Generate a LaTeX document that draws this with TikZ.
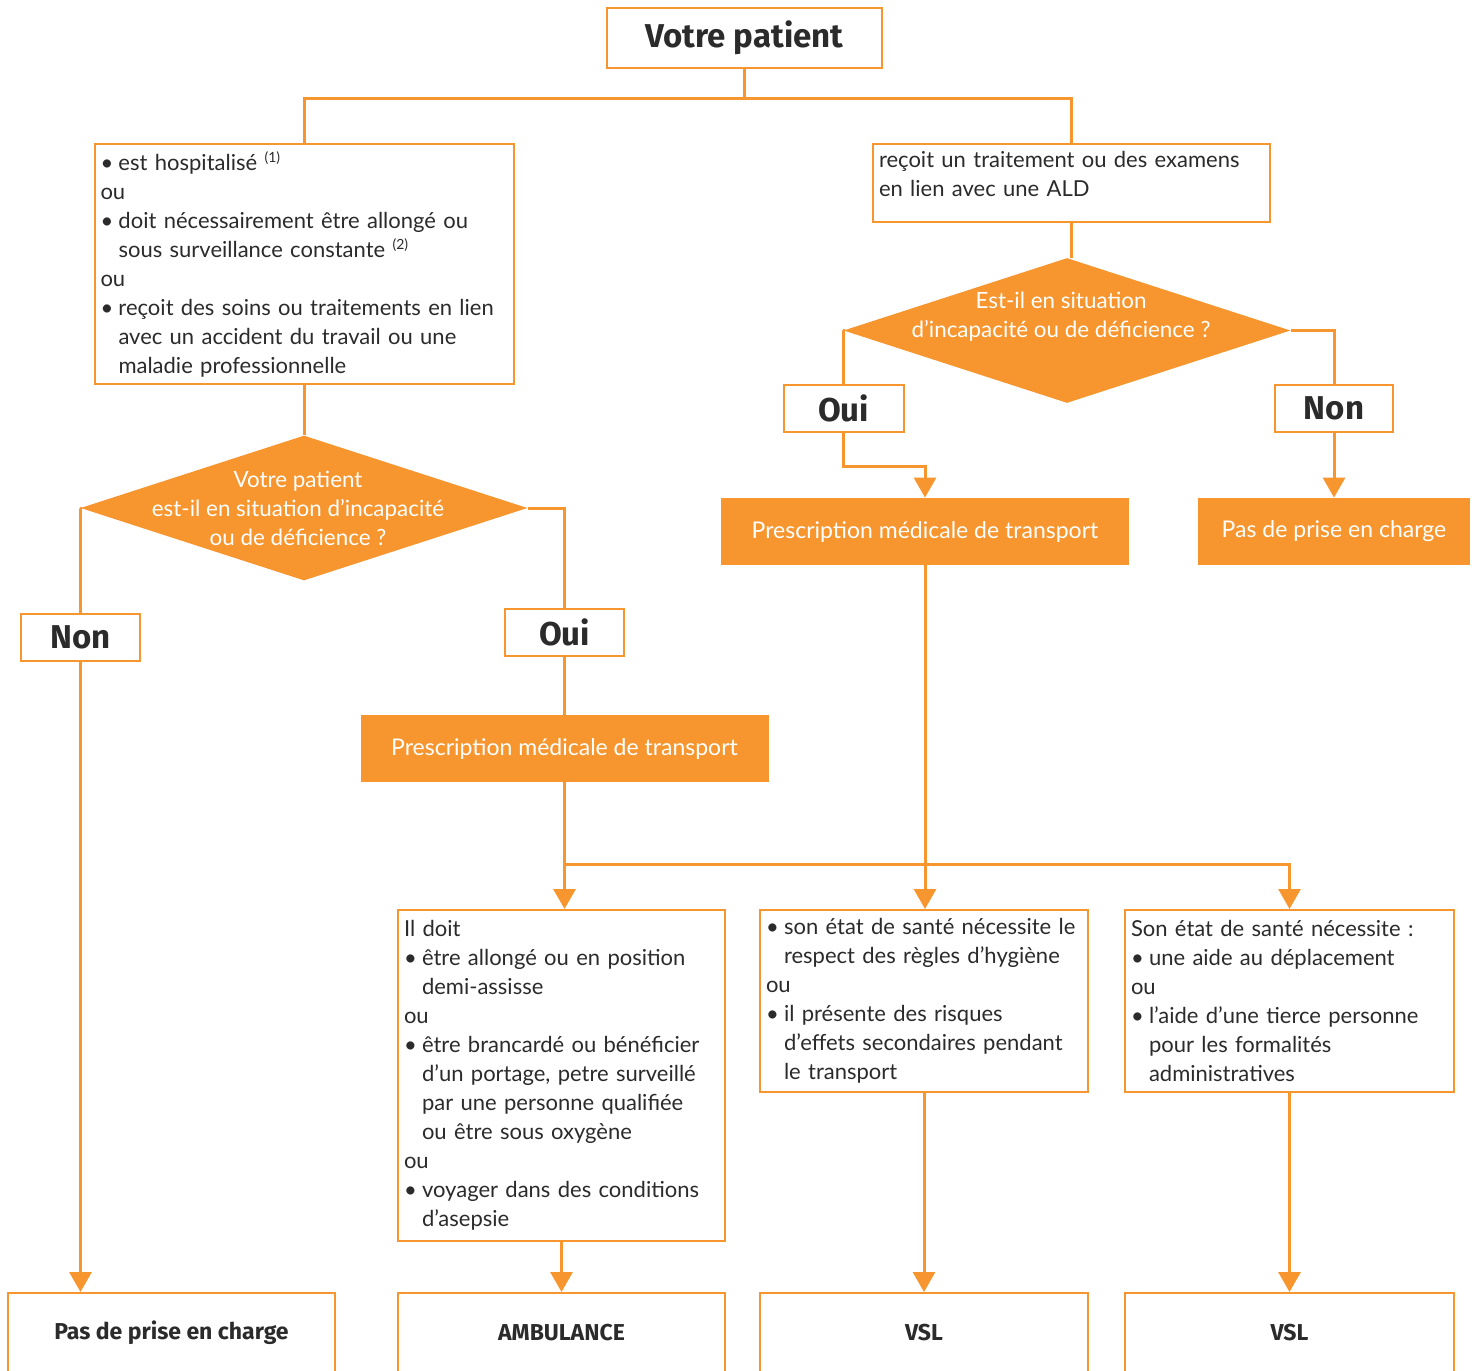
\documentclass[tikz,border=0pt]{standalone}
\usepackage{fontspec}
\setmainfont{Lato}
\newfontfamily\headfont{Fira Sans}
\usetikzlibrary{shapes.geometric,arrows.meta}

\definecolor{orangeline}{HTML}{F7962E}
\definecolor{orangefill}{HTML}{F7962E}
\definecolor{txtgray}{HTML}{2B2B2B}

\newcommand\bul{\makebox[9pt][l]{\textbullet}}
\newcommand\ind{\hspace*{9pt}}

\begin{document}
\begin{tikzpicture}[x=0.5pt, y=-0.5pt,
	line/.style={draw=orangeline, line width=1.5pt},
	arr/.style={line, -{Triangle[width=11pt,length=10pt]}},
	framebox/.style={rectangle, draw=orangeline, line width=1pt, fill=white, inner sep=0pt, text=txtgray},
	txtbox/.style={framebox, align=left, inner xsep=3pt, font=\fontsize{11}{14.5}\selectfont},
	headbox/.style={framebox, font=\headfont\bfseries\fontsize{16.5}{18}\selectfont},
	resbox/.style={framebox, minimum width=164pt, minimum height=40pt, font=\headfont\bfseries\fontsize{11.5}{13}\selectfont},
	orangebox/.style={rectangle, fill=orangefill, text=white, inner sep=0pt, minimum height=33.5pt, font=\fontsize{11.5}{14.5}\selectfont},
	decision/.style={diamond, fill=orangefill, inner sep=0pt, minimum width=223.5pt, minimum height=72.5pt},
	decisiontext/.style={text=white, align=center, font=\fontsize{11.2}{14.5}\selectfont}]
	\clip (0,0) rectangle (1477,1370);
	\fill[white] (0,0) rectangle (1477,1370);

	% top
	\node[headbox, minimum width=137.5pt, minimum height=30pt, font=\headfont\bfseries\fontsize{16.5}{18}\selectfont] (patient) at (744.5,38) {Votre patient};
	\coordinate (split) at (744.5,99);

	\node[txtbox, minimum width=209.5pt, minimum height=120pt, text width=203.5pt] (hosp) at (304,264) {%
		\bul est hospitalisé \textsuperscript{\scriptsize(1)}\\
		ou\\
		\bul doit nécessairement être allongé ou\\
		\ind sous surveillance constante \textsuperscript{\scriptsize(2)}\\
		ou\\
		\bul reçoit des soins ou traitements en lien\\
		\ind avec un accident du travail ou une\\
		\ind maladie professionnelle};
	\node[txtbox, minimum width=198.5pt, minimum height=39pt, text width=192.5pt] (ald) at (1071.5,183) {%
		reçoit un traitement ou des examens\\
		en lien avec une ALD\\[-10pt]\strut};

	% left branch
	\node[decision] (d1) at (304,508) {};
	\node[decisiontext] (d1t) at ([xshift=-3pt]d1.center) {Votre patient\\est-il en situation d’incapacité\\ou de déficience ?};
	\node[headbox, minimum width=59.5pt, minimum height=23.5pt] (non1) at (80.5,637.5) {Non};
	\node[headbox, minimum width=59.5pt, minimum height=23.5pt] (oui1) at (564.5,632.5) {Oui};
	\node[orangebox, minimum width=204pt] (presc1) at (564.5,748.5) {Prescription médicale de transport};

	% right branch
	\node[decision] (d2) at (1067,330.5) {};
	\node[decisiontext] (d2t) at ([xshift=-3pt,yshift=7pt]d2.center) {Est-il en situation\\d’incapacité ou de déficience ?};
	\node[headbox, minimum width=60pt, minimum height=23.5pt] (oui2) at (843.5,408.5) {Oui};
	\node[headbox, minimum width=59pt, minimum height=23.5pt] (non2) at (1334,408.5) {Non};
	\node[orangebox, minimum width=204pt] (presc2) at (925,531.5) {Prescription médicale de transport};
	\node[orangebox, minimum width=136pt] (pas1) at (1334,531.5) {Pas de prise en charge};

	% criteria
	\node[txtbox, minimum width=163.5pt, minimum height=165.5pt, text width=157.5pt] (crit1) at (561.5,1075.5) {%
		Il doit\\
		\bul être allongé ou en position\\
		\ind demi-assisse\\
		ou\\
		\bul être brancardé ou bénéficier\\
		\ind d’un portage, petre surveillé\\
		\ind par une personne qualifiée\\
		\ind ou être sous oxygène\\
		ou\\
		\bul voyager dans des conditions\\
		\ind d’asepsie};
	\node[txtbox, minimum width=164pt, minimum height=91pt, text width=158pt] (crit2) at (924,1001) {%
		\bul son état de santé nécessite le\\
		\ind respect des règles d’hygiène\\
		ou\\
		\bul il présente des risques\\
		\ind d’effets secondaires pendant\\
		\ind le transport};
	\node[txtbox, minimum width=164.5pt, minimum height=91pt, text width=158.5pt] (crit3) at (1289.5,1001) {%
		Son état de santé nécessite :\\
		\bul une aide au déplacement\\
		ou\\
		\bul l’aide d’une tierce personne\\
		\ind pour les formalités\\
		\ind administratives};
	\coordinate (join) at (564.5,864);

	% results
	\node[resbox, minimum width=163.5pt] (res1) at (171.5,1333) {Pas de prise en charge};
	\node[resbox, minimum width=163.5pt] (res2) at (561.5,1333) {AMBULANCE};
	\node[resbox] (res3) at (924,1333) {VSL};
	\node[resbox, minimum width=164.5pt] (res4) at (1289.5,1333) {VSL};

	% connectors
	\draw[line] (patient) -- (split);
	\draw[line] (hosp.north) |- (split) -| (ald.north);
	\draw[line] (hosp.south) -- (d1.north);
	\draw[line] (ald.south) -- (ald.south |- d2.north);
	\draw[line] (d1.west) -| (non1.north);
	\draw[line] (d1.east) -| (oui1.north);
	\draw[line] (oui1.south) -- (presc1.north);
	\draw[arr] (non1.south) -- (non1 |- res1.north);
	\draw[arr] (presc1.south) -- (presc1 |- crit1.north);
	\draw[arr] (join) -| (crit3.north);
	\draw[line] (d2.west) -| (oui2.north);
	\draw[line] (d2.east) -| (non2.north);
	\draw[arr] (oui2.south) -- ++(0,33) -| (presc2.north);
	\draw[arr] (non2.south) -- (pas1.north);
	\draw[arr] (presc2.south) -- (presc2 |- crit2.north);
	\draw[arr] (crit1.south) -- (res2.north);
	\draw[arr] (crit2.south) -- (res3.north);
	\draw[arr] (crit3.south) -- (res4.north);
\end{tikzpicture}
\end{document}
